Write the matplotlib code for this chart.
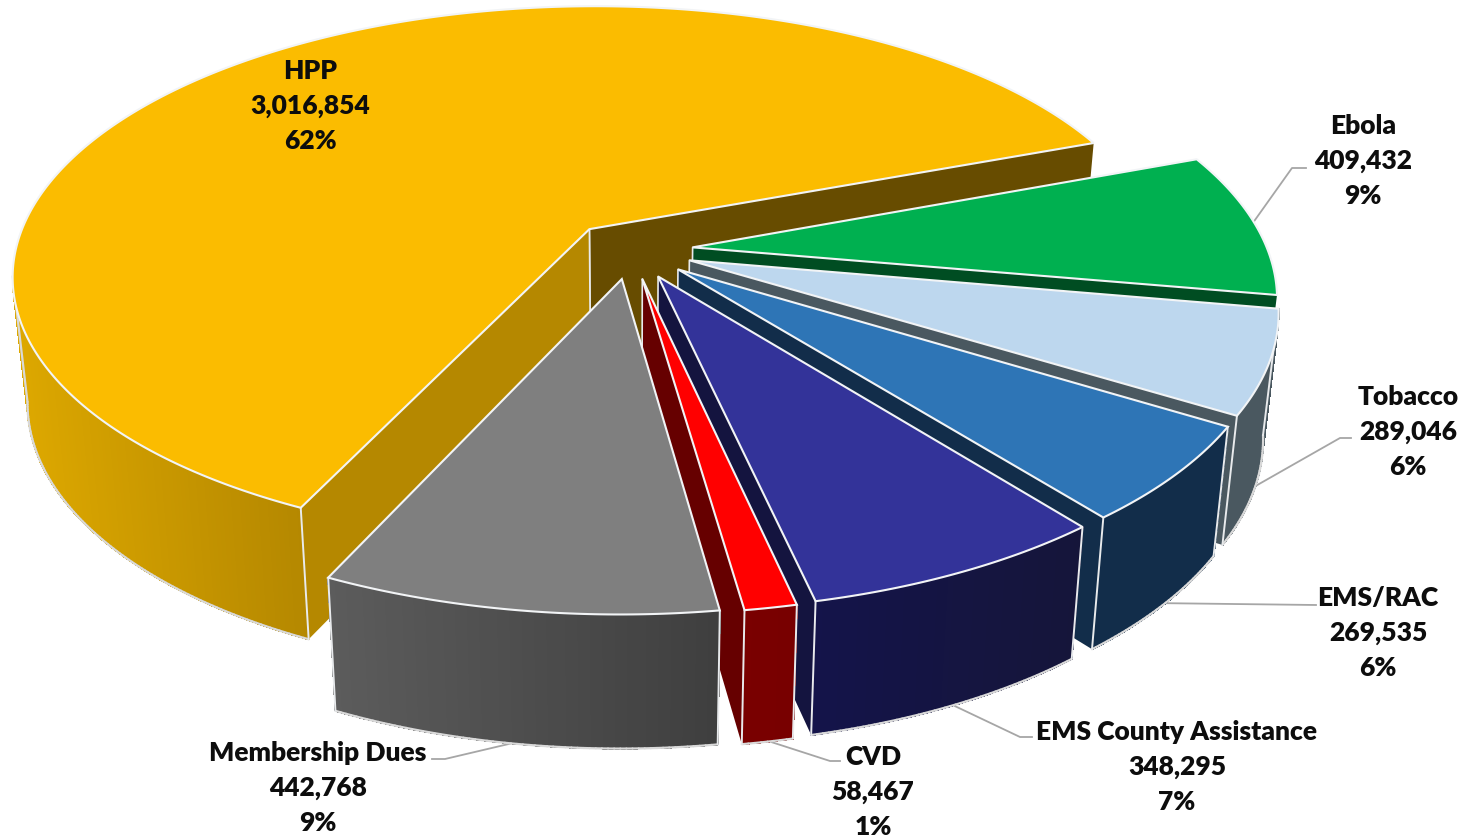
import math
import matplotlib
matplotlib.use("Agg")
import matplotlib.pyplot as plt

# order is clockwise starting from Ebola
names = ["Ebola", "Tobacco", "EMS/RAC", "EMS County Assistance", "CVD", "Membership Dues", "HPP"]
values = [409432, 289046, 269535, 348295, 58467, 442768, 3016854]
percents = [9, 6, 6, 7, 1, 9, 62]

top_colors = ["#00B050", "#BDD7EE", "#2E75B6", "#333399", "#FF0000", "#7F7F7F", "#FBBC00"]
end_colors = ["#004D22", "#4A5860", "#122D4A", "#14143F", "#660000", "#555555", "#674C00"]
start_colors = ["#004D22", "#4A5860", "#122D4A", "#14143F", "#780000", "#555555", "#B58800"]
wall_colors_left = ["#004D22", "#4A5860", "#122D4A", "#14144A", "#7A0000", "#5C5C5C", "#DDA800"]
wall_colors_right = ["#004D22", "#4A5860", "#122D4A", "#15153A", "#780000", "#3F3F3F", "#B58800"]

label_pos = [(1363, 161), (1408, 432), (1378, 633), (1177, 767), (873, 792), (318, 788), (310, 106)]
leaders = [
    [(1250, 228), (1292, 169), (1306, 169)],
    [(1245, 493), (1340, 439), (1351, 439)],
    [(1150, 604), (1316, 606)],
    [(940, 700), (1020, 738), (1032, 738)],
    [(765, 741), (830, 762), (840, 762)],
    [(530, 740), (445, 760), (432, 760)],
]

# pie geometry, pixels
cx, cy = 631, 251
R = 575
k = 0.465
p = 0.17
explode = 62
start_angle = 69.5
edge = "#E8EAEC"


def proj(X, Y, low=False):
    w = 1 + p * Y / R
    x = cx + X / w
    y = cy - k * Y / w
    if low:
        x = cx + (x - cx) * 0.976
        y = y + 125 + 0.025 * (y - cy)
    return x, y


def pt(theta, r, mid, low=False):
    t = math.radians(theta)
    m = math.radians(mid)
    X = explode * math.sin(m) + r * math.sin(t)
    Y = explode * math.cos(m) + r * math.cos(t)
    return proj(X, Y, low)


def shoelace(q):
    s = 0
    for i in range(len(q)):
        x1, y1 = q[i]
        x2, y2 = q[(i + 1) % len(q)]
        s += x1 * y2 - x2 * y1
    return s


def mix(c1, c2, f):
    a = matplotlib.colors.to_rgb(c1)
    b = matplotlib.colors.to_rgb(c2)
    return tuple(a[i] + (b[i] - a[i]) * f for i in range(3))


def line(a, b, color=edge, lw=1.4):
    global z
    z += 1
    ax.plot([a[0], b[0]], [a[1], b[1]], color=color, lw=lw, zorder=z, solid_capstyle="round")


def poly(q, **kw):
    global z
    z += 1
    ax.fill([c[0] for c in q], [c[1] for c in q], zorder=z, **kw)


fig = plt.figure(figsize=(14.76, 8.37), dpi=100)
ax = fig.add_axes([0, 0, 1, 1])
ax.set_xlim(0, 1476)
ax.set_ylim(837, 0)
ax.axis("off")

z = 2
for ln in leaders:
    ax.plot([c[0] for c in ln], [c[1] for c in ln], color="#A6A6A6", lw=1.3, zorder=1)

total = sum(values)
angles = [start_angle]
for v in values:
    angles.append(angles[-1] + v / total * 360)

# back to front: HPP, then round the right side, Membership last
order = [6, 0, 1, 2, 3, 4, 5]
for i in order:
    a0, a1 = angles[i], angles[i + 1]
    mid = (a0 + a1) / 2
    n = max(int((a1 - a0) * 2), 4)
    thetas = [a0 + (a1 - a0) * j / n for j in range(n + 1)]

    # radial walls
    for a, colors, sign in [(a1, end_colors, 1), (a0, start_colors, -1)]:
        q = [pt(a, 0, mid), pt(a, R, mid), pt(a, R, mid, True), pt(a, 0, mid, True)]
        if shoelace(q) * sign > 0:
            poly(q, color=colors[i], lw=0)
            line(q[0], q[3], lw=1.2)

    # outer wall, shaded along x
    front = [t for t in thetas if math.cos(math.radians(t)) < -p]
    if len(front) > 1:
        xt = [pt(t, R, mid)[0] for t in front]
        for j in range(len(front) - 1):
            t0, t1 = front[j], front[j + 1]
            q = [pt(t0, R, mid), pt(t1, R, mid), pt(t1, R, mid, True), pt(t0, R, mid, True)]
            f = (q[0][0] - min(xt)) / max(max(xt) - min(xt), 1)
            col = mix(wall_colors_left[i], wall_colors_right[i], f)
            poly(q, color=col, lw=0.8, antialiased=False)
        low = [pt(t, R, mid, True) for t in front]
        for j in range(len(low) - 1):
            line(low[j], low[j + 1], color="#D9D9D9", lw=1.6)
        # silhouette where the wall turns out of sight
        for t in [front[0], front[-1]]:
            if t != a0 and t != a1:
                line(pt(t, R, mid), pt(t, R, mid, True), color="#D9D9D9", lw=1.6)
        for t in [a0, a1]:
            if math.cos(math.radians(t)) < -p:
                line(pt(t, R, mid), pt(t, R, mid, True))

    # top face
    outline = [pt(a0, 0, mid)] + [pt(t, R, mid) for t in thetas]
    poly(outline, facecolor=top_colors[i], edgecolor="#F2F4F6", lw=1.5, joinstyle="miter")

for i in range(len(names)):
    txt = f"{names[i]}\n{values[i]:,}\n{percents[i]}%"
    ax.text(label_pos[i][0], label_pos[i][1], txt, ha="center", va="center", family="Lato",
            fontweight="heavy", fontsize=19, linespacing=1.55, color="#0D0D0D", zorder=z + 1)

fig.savefig("out.png", dpi=100)
